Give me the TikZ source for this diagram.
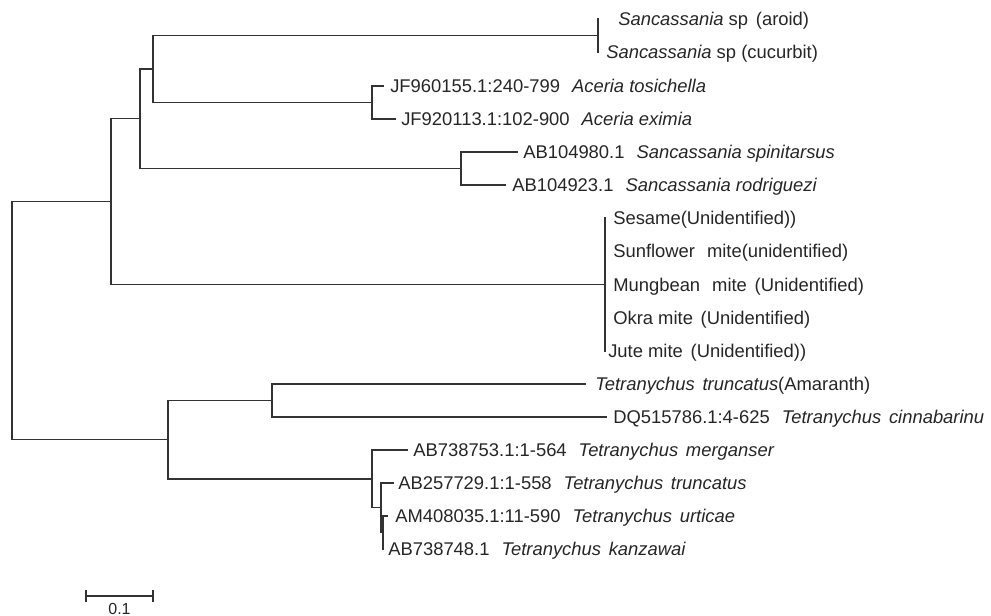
\documentclass[tikz,border=0pt]{standalone}
\usepackage{fontspec}
\setmainfont{Liberation Sans}
\newcommand{\sgap}{\hspace{0.65em}}
\newcommand{\wgap}{\hspace{0.42em}}
\begin{document}
\begin{tikzpicture}[x=0.75pt,y=-0.75pt,
  br/.style={draw=black!80, line width=1.1pt, line cap=rect},
  lab/.style={anchor=base west, inner sep=0pt, text=black!85,
    font=\fontsize{13.8}{16}\selectfont, yshift=-4.95pt}]
\useasboundingbox (0,0) rectangle (991,616);
% internal nodes
\coordinate (root) at (12,320.6);
\coordinate (A) at (111,201.6);
\coordinate (B) at (140,118.7);
\coordinate (C) at (153,69);
\coordinate (D) at (598,35.5);
\coordinate (E) at (372,102.5);
\coordinate (F) at (461,168.5);
\coordinate (G) at (605,284.5);
\coordinate (H) at (168,439.7);
\coordinate (I) at (272,400.5);
\coordinate (J) at (372,478.9);
\coordinate (K) at (381,507.7);
\coordinate (L) at (383,532.5);
% leaves
\coordinate (l1) at (598,19);
\coordinate (l2) at (598,52);
\coordinate (l3) at (383,86);
\coordinate (l4) at (395,119);
\coordinate (l5) at (517,152);
\coordinate (l6) at (505,185);
\coordinate (l7) at (605,218);
\coordinate (l8) at (605,251);
\coordinate (l9) at (605,284.5);
\coordinate (l10) at (605,318);
\coordinate (l11) at (605,351);
\coordinate (l12) at (585,384);
\coordinate (l13) at (606,417);
\coordinate (l14) at (407,450);
\coordinate (l15) at (393,483);
\coordinate (l16) at (387,516);
\coordinate (l17) at (383,549);
% branches
\draw[br] (root) |- (A);
\draw[br] (root) |- (H);
\draw[br] (A) |- (B);
\draw[br] (A) |- (G);
\draw[br] (B) |- (C);
\draw[br] (B) |- (F);
\draw[br] (C) |- (D);
\draw[br] (C) |- (E);
\draw[br] (D) |- (l1);
\draw[br] (D) |- (l2);
\draw[br] (E) |- (l3);
\draw[br] (E) |- (l4);
\draw[br] (F) |- (l5);
\draw[br] (F) |- (l6);
\draw[br] (G) |- (l7);
\draw[br] (G) |- (l11);
\draw[br] (H) |- (I);
\draw[br] (H) |- (J);
\draw[br] (I) |- (l12);
\draw[br] (I) |- (l13);
\draw[br] (J) |- (l14);
\draw[br] (J) |- (K);
\draw[br] (K) |- (l15);
\draw[br] (K) |- (L);
\draw[br] (L) |- (l16);
\draw[br] (L) |- (l17);
% labels
\node[lab] (t1) at (618,19) {\textit{Sancassania} sp\wgap(aroid)};
\node[lab] (t2) at (606,52) {\textit{Sancassania} sp (cucurbit)};
\node[lab] (t3) at (390,86) {JF960155.1:240-799\sgap\textit{Aceria tosichella}};
\node[lab] (t4) at (401,119) {JF920113.1:102-900\sgap\textit{Aceria eximia}};
\node[lab] (t5) at (523,152) {AB104980.1\sgap\textit{Sancassania spinitarsus}};
\node[lab] (t6) at (512,185) {AB104923.1\sgap\textit{Sancassania rodriguezi}};
\node[lab] (t7) at (613,218) {Sesame(Unidentified))};
\node[lab] (t8) at (613,251) {Sunflower\sgap mite(unidentified)};
\node[lab] (t9) at (613,284.5) {Mungbean\sgap mite\wgap(Unidentified)};
\node[lab] (t10) at (613,318) {Okra mite\wgap(Unidentified)};
\node[lab] (t11) at (608,351) {Jute mite\wgap(Unidentified))};
\node[lab] (t12) at (595,384) {\textit{Tetranychus\wgap truncatus}(Amaranth)};
\node[lab] (t13) at (613,417) {DQ515786.1:4-625\sgap\textit{Tetranychus\wgap cinnabarinu}};
\node[lab] (t14) at (413,450) {AB738753.1:1-564\sgap\textit{Tetranychus\wgap merganser}};
\node[lab] (t15) at (398,483) {AB257729.1:1-558\sgap\textit{Tetranychus\wgap truncatus}};
\node[lab] (t16) at (395,516) {AM408035.1:11-590\sgap\textit{Tetranychus\wgap urticae}};
\node[lab] (t17) at (388,549) {AB738748.1\sgap\textit{Tetranychus\wgap kanzawai}};
% scale bar
\coordinate (sb1) at (86,596);
\coordinate (sb2) at (153,596);
\draw[draw=black!80, line width=0.9pt] (sb1) -- (sb2);
\draw[draw=black!80, line width=0.9pt] ([yshift=4.5pt]sb1) -- ([yshift=-4.5pt]sb1);
\draw[draw=black!80, line width=0.9pt] ([yshift=4.5pt]sb2) -- ([yshift=-4.5pt]sb2);
\node[anchor=base, inner sep=0pt, text=black!85, font=\fontsize{12}{14}\selectfont] (sbl) at (119.5,614) {0.1};
\end{tikzpicture}
\end{document}
